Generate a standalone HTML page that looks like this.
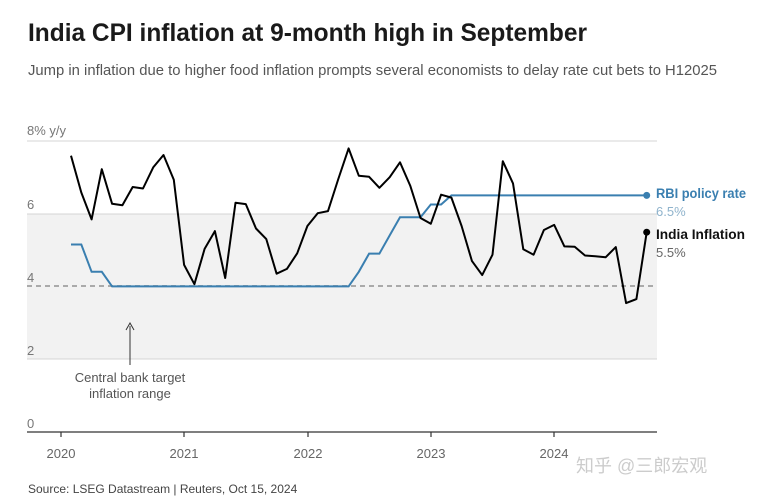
<!DOCTYPE html>
<html><head><meta charset="utf-8"><style>
body{margin:0;background:#fff}
svg{display:block;font-family:"Liberation Sans","Noto Sans CJK SC",sans-serif}
</style></head><body>
<svg width="761" height="500" viewBox="0 0 761 500">
<text x="28" y="41" font-size="25" font-weight="bold" fill="#1a1a1a" textLength="559" lengthAdjust="spacingAndGlyphs">India CPI inflation at 9-month high in September</text>
<text x="28" y="75" font-size="15" fill="#555" textLength="689" lengthAdjust="spacingAndGlyphs">Jump in inflation due to higher food inflation prompts several economists to delay rate cut bets to H12025</text>
<rect x="27" y="214" width="630" height="145" fill="#f2f2f2"/>
<g stroke="#d4d4d4" stroke-width="1">
<line x1="27" y1="141" x2="657" y2="141"/>
<line x1="27" y1="214" x2="657" y2="214"/>
<line x1="27" y1="359" x2="657" y2="359"/>
</g>
<line x1="27" y1="286" x2="657" y2="286" stroke="#aaa" stroke-width="2" stroke-dasharray="5,4"/>
<g font-size="13" fill="#777">
<text x="27" y="135">8%  y/y</text>
<text x="27" y="209">6</text>
<text x="27" y="282">4</text>
<text x="27" y="355">2</text>
<text x="27" y="428">0</text>
</g>
<line x1="27" y1="432" x2="657" y2="432" stroke="#333" stroke-width="1.2"/>
<g stroke="#333" stroke-width="1.2">
<line x1="61" y1="432" x2="61" y2="437"/><line x1="184" y1="432" x2="184" y2="437"/><line x1="308" y1="432" x2="308" y2="437"/><line x1="431" y1="432" x2="431" y2="437"/><line x1="554" y1="432" x2="554" y2="437"/>
</g>
<g font-size="13" fill="#666" text-anchor="middle">
<text x="61" y="458">2020</text><text x="184" y="458">2021</text><text x="308" y="458">2022</text><text x="431" y="458">2023</text><text x="554" y="458">2024</text>
</g>
<line x1="130" y1="326" x2="130" y2="365" stroke="#333" stroke-width="1"/>
<path d="M126 330 L130 323 L134 330" fill="none" stroke="#333" stroke-width="1"/>
<g font-size="13" fill="#555" text-anchor="middle">
<text x="130" y="382">Central bank target</text>
<text x="130" y="398">inflation range</text>
</g>
<polyline fill="none" stroke="#3a7fb0" stroke-width="2" points="71,244.5 81.3,244.5 91.6,271.8 101.8,271.8 112.1,286.4 348.6,286.4 358.8,271.8 369.1,253.6 379.4,253.6 389.7,235.4 400,217.2 410.2,217.2 420.5,217.2 430.8,204.5 441.1,204.5 451.4,195.4 646.7,195.4"/>
<circle cx="646.7" cy="195.4" r="3.5" fill="#3a7fb0"/>
<polyline fill="none" stroke="#000" stroke-width="2" stroke-linejoin="round" points="71,155.7 81.3,192.5 91.6,219.4 101.8,169.2 112.1,203.8 122.4,205.2 132.7,187 143,188.5 153.2,167.4 163.5,155 173.8,179.7 184.1,264.9 194.4,284.2 204.6,248.9 214.9,231.1 225.2,278 235.5,202.7 245.8,204.1 256,228.5 266.3,239.1 276.6,273.7 286.9,268.9 297.2,253.3 307.4,226 317.7,213.2 328,211.1 338.3,179 348.6,148.4 358.8,175.7 369.1,176.8 379.4,187.8 389.7,177.2 400,162.3 410.2,185.6 420.5,218 430.8,223.8 441.1,194.7 451.4,197.6 461.6,226 471.9,260.9 482.2,275.1 492.5,254.7 502.8,161.2 513,183.4 523.3,249.3 533.6,254.7 543.9,230 554.2,224.9 564.4,246.4 574.7,246.7 585,255.5 595.3,256.2 605.6,257.3 615.8,247.1 626.1,303.1 636.4,299.1 646.7,232.2"/>
<circle cx="646.7" cy="232.2" r="3.5" fill="#000"/>
<text x="656" y="198" font-size="13.5" font-weight="bold" fill="#3a7fb0" textLength="90" lengthAdjust="spacingAndGlyphs">RBI policy rate</text>
<text x="656" y="216" font-size="13" fill="#8fb3cc">6.5%</text>
<text x="656" y="239" font-size="13.5" font-weight="bold" fill="#111" textLength="89" lengthAdjust="spacingAndGlyphs">India Inflation</text>
<text x="656" y="257" font-size="13" fill="#666">5.5%</text>
<text x="576" y="472" font-size="18" fill="#ccc">知乎 @三郎宏观</text>
<text x="28" y="493" font-size="12" fill="#444">Source: LSEG Datastream | Reuters, Oct 15, 2024</text>
</svg>
</body></html>
